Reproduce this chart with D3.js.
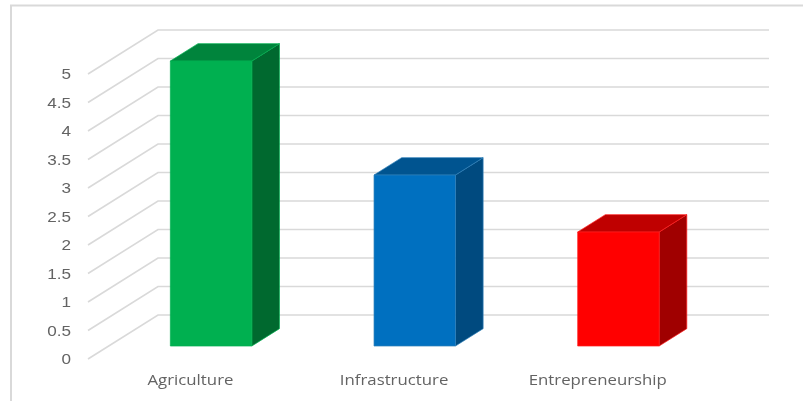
<!DOCTYPE html>
<html><head><meta charset="utf-8">
<script src="https://cdn.jsdelivr.net/npm/d3@7"></script>
<style>html,body{margin:0;padding:0;background:#fff;overflow:hidden}svg{display:block;filter:blur(0.4px)}</style>
</head><body><svg id="c" width="803" height="401"></svg>
<script>
const categories = ["Agriculture", "Infrastructure", "Entrepreneurship"];
const values = [5, 3, 2];
const tickValues = [0, 0.5, 1, 1.5, 2, 2.5, 3, 3.5, 4, 4.5, 5];
const faceColors = ["#00B050", "#0070C0", "#FF0000"];
const topColors = ["#00843C", "#005490", "#BF0000"];
const sideColors = ["#00692F", "#004A7F", "#A00000"];
const edgeColors = ["#00B050", "#2f7fb8", "#FF2020"];

const svg = d3.select("#c");
const W = 803, H = 401;
// projection: z runs from the front of the floor (0) to the back wall (1)
const depthX = d3.scaleLinear().domain([0, 1]).range([0, 70]);
const depthY = d3.scaleLinear().domain([0, 1]).range([0, -44]);
const x = d3.scaleBand().domain(categories).range([88.6, 699.6]).paddingInner(0.6).paddingOuter(0.3);
const y = d3.scaleLinear().domain([0, 5]).range([359, 74]);
const z0 = 0.295, z1 = 0.69;
const pt = (px, v, z) => [px + depthX(z), y(v) + depthY(z)];
const line = d3.line();
const stretch = 1.18;

// chart frame
svg.append("path").attr("d", `M11,${H} V5.5 H${W}`).attr("fill", "none")
  .attr("stroke", "#d9d9d9").attr("stroke-width", 2);

// gridlines on the side wall and back wall
svg.append("g").attr("fill", "none").attr("stroke", "#d9d9d9").attr("stroke-width", 1.6)
  .selectAll("path").data(tickValues).join("path")
  .attr("d", v => line([pt(88, v, 0), pt(88, v, 1), pt(699, v, 1)]));

// bars
svg.append("g").selectAll("g").data(categories).join("g").each(function (c, i) {
  const g = d3.select(this), l = x(c), r = l + x.bandwidth(), v = values[i];
  const poly = (pts, fill) => g.append("path").attr("d", line(pts) + "Z").attr("fill", fill)
    .attr("stroke", edgeColors[i]).attr("stroke-width", 0.7).attr("stroke-linejoin", "round");
  poly([pt(r, 0, z0), pt(r, 0, z1), pt(r, v, z1), pt(r, v, z0)], sideColors[i]);
  poly([pt(l, v, z0), pt(r, v, z0), pt(r, v, z1), pt(l, v, z1)], topColors[i]);
  poly([pt(l, 0, z0), pt(r, 0, z0), pt(r, v, z0), pt(l, v, z0)], faceColors[i]);
});

// value axis labels
svg.append("g").attr("text-anchor", "end").attr("fill", "#636363")
  .attr("font-family", "'Liberation Sans', Arial, sans-serif").attr("font-size", 14.5)
  .selectAll("text").data(tickValues).join("text")
  .attr("transform", v => `translate(71,${y(v)}) scale(${stretch},1)`)
  .attr("dy", "0.36em").text(v => v);

// category labels
svg.append("g").attr("text-anchor", "middle").attr("fill", "#636363")
  .attr("font-family", "'Open Sans', sans-serif").attr("font-size", 14)
  .selectAll("text").data(categories).join("text")
  .attr("transform", c => `translate(${x(c) + x.bandwidth() / 2},385) scale(1.2,1)`)
  .text(c => c);
</script></body></html>
